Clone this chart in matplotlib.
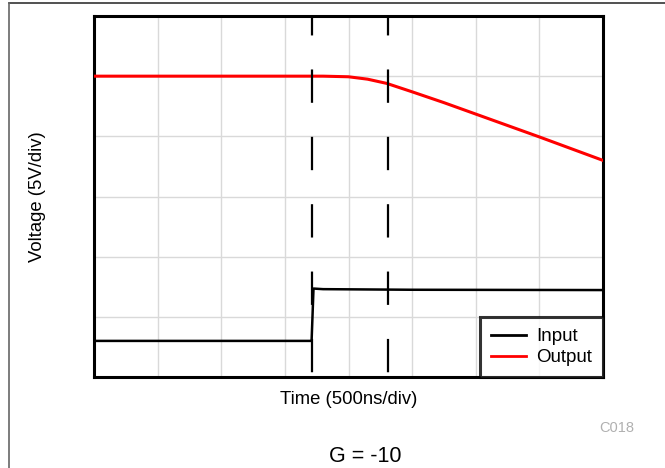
import matplotlib
matplotlib.use("Agg")
import matplotlib.pyplot as plt
from matplotlib.lines import Line2D

plt.rcParams['font.family'] = ['Liberation Sans', 'DejaVu Sans']
plt.rcParams['lines.scale_dashes'] = False

# time in divisions, voltage in divisions
t_out = [0, 3.6, 4.0, 4.3, 4.6, 5.0, 5.5, 6.0, 7.0, 8.0]
v_out = [5.0, 5.0, 4.99, 4.95, 4.88, 4.74, 4.56, 4.37, 3.99, 3.6]

t_in = [0, 3.42, 3.45, 3.6, 5.0, 8.0]
v_in = [0.6, 0.6, 1.47, 1.46, 1.45, 1.445]

markers = [3.42, 4.62]

fig = plt.figure(figsize=(6.65, 4.68), dpi=100)
ax = fig.add_axes([94 / 665, 1 - 377 / 468, 509 / 665, 361 / 468])

ax.plot(t_out, v_out, color='#ff0000', lw=2.2, label='Output', zorder=3)
ax.plot(t_in, v_in, color='black', lw=1.8, label='Input', zorder=3)
for m in markers:
    ax.plot([m, m], [6, 0], color='black', lw=1.6,
            linestyle=(10, (24, 24.5)), dash_capstyle='butt', zorder=4)

ax.set_xlim(0, 8)
ax.set_ylim(0, 6)
ax.set_xticks(range(9))
ax.set_yticks(range(7))
ax.grid(True, color='#d9d9d9', lw=1)
ax.tick_params(length=0, labelbottom=False, labelleft=False)
for s in ax.spines.values():
    s.set_linewidth(2.2)

ax.set_xlabel('Time (500ns/div)', fontsize=13.3, va='center')
ax.xaxis.set_label_coords(0.5, -0.062)
ax.set_ylabel('Voltage (5V/div)', fontsize=13.3, va='center')
ax.yaxis.set_label_coords(-0.111, 0.5)

handles = [Line2D([], [], color='black', lw=2),
           Line2D([], [], color='#ff0000', lw=2)]
leg = ax.legend(handles, ['Input', 'Output'], loc='lower right', fontsize=13.5,
                frameon=True, fancybox=False, edgecolor='black',
                borderaxespad=0, handlelength=1.87, handletextpad=0.53,
                labelspacing=0.2, borderpad=0.58)
leg.get_frame().set_linewidth(2.2)

fig.text(617 / 665, 1 - 428 / 468, 'C018', color='#b0b0b0', fontsize=10.5,
         ha='center', va='center')
fig.text(365 / 665, 1 - 456 / 468, 'G = -10', fontsize=15.5,
         ha='center', va='center')

# outer frame lines
fig.add_artist(Line2D([9 / 665, 1], [1 - 3 / 468, 1 - 3 / 468],
                      color='#333333', lw=1.2))
fig.add_artist(Line2D([9 / 665, 9 / 665], [0, 1 - 3 / 468],
                      color='#666666', lw=1.2))

fig.savefig('out.png', dpi=100)
